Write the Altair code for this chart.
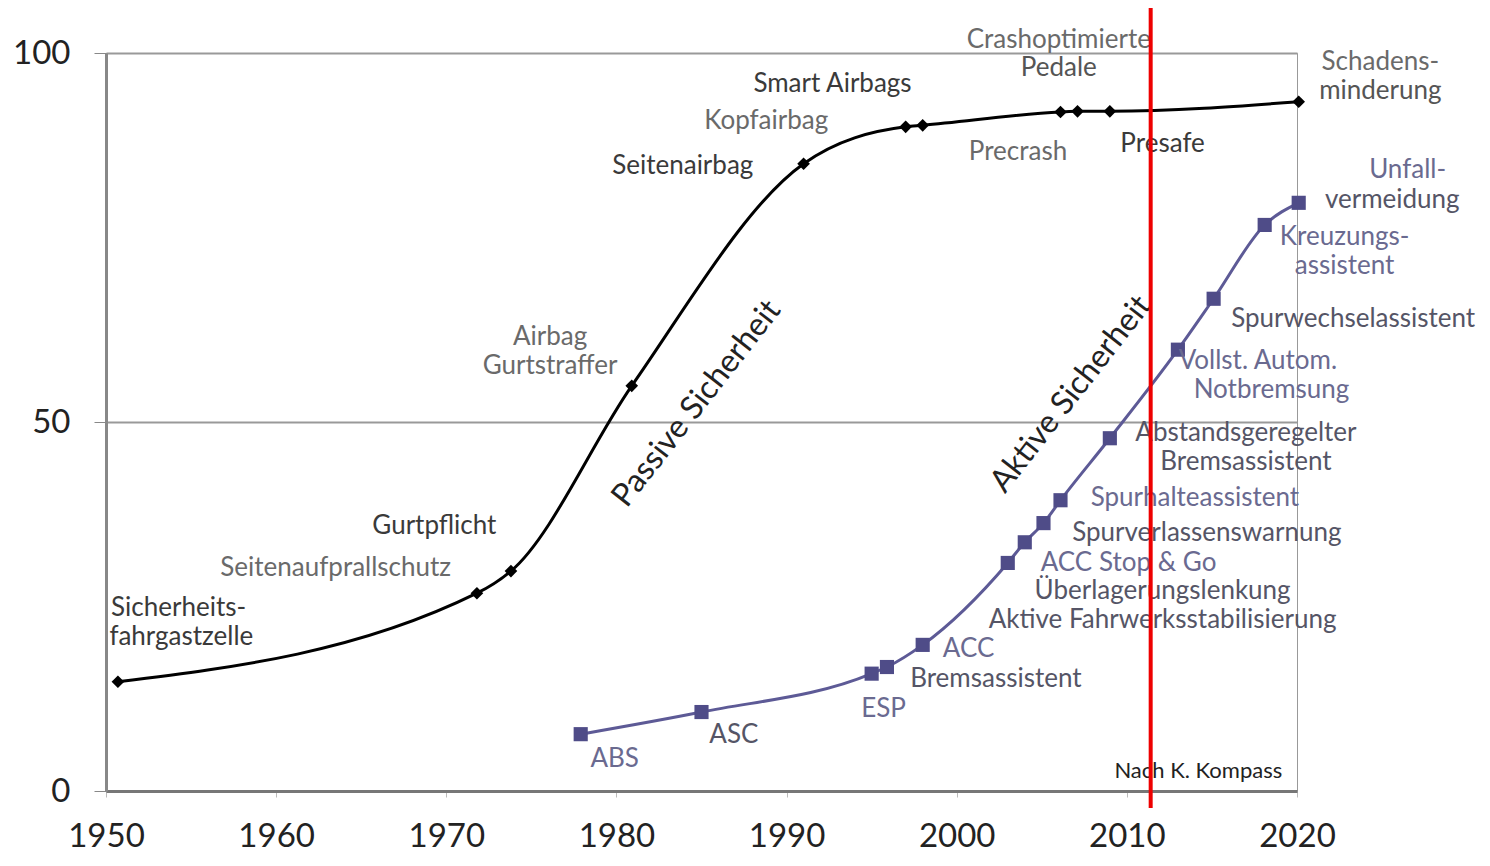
import altair as alt
import pandas as pd

# --- data -------------------------------------------------------------
passive_years = [1950.7, 1971.8, 1973.8, 1980.9, 1991.0, 1997.0, 1998.0, 2006.1, 2007.1, 2009.0, 2020.1]
passive_values = [14.8, 26.8, 29.8, 54.9, 85.0, 90.0, 90.2, 92.0, 92.1, 92.1, 93.4]

active_years = [1977.9, 1985.0, 1995.0, 1995.9, 1998.0, 2003.0, 2004.0, 2005.1, 2006.1, 2009.0, 2013.0, 2015.1, 2018.1, 2020.1]
active_values = [7.7, 10.7, 15.9, 16.8, 19.8, 30.9, 33.7, 36.3, 39.4, 47.8, 59.8, 66.7, 76.7, 79.7]

label_texts = [
    "Sicherheits-", "fahrgastzelle", "Seitenaufprallschutz", "Gurtpflicht",
    "Airbag", "Gurtstraffer", "Seitenairbag", "Kopfairbag", "Smart Airbags",
    "Crashoptimierte", "Pedale", "Precrash", "Presafe", "Schadens-", "minderung",
    "ABS", "ASC", "ESP", "Bremsassistent", "ACC", "Aktive Fahrwerksstabilisierung",
    "Überlagerungslenkung", "ACC Stop & Go", "Spurverlassenswarnung", "Spurhalteassistent",
    "Abstandsgeregelter", "Bremsassistent", "Vollst. Autom.", "Notbremsung",
    "Spurwechselassistent", "Kreuzungs-", "assistent", "Unfall-", "vermeidung",
]
label_years = [
    1950.3, 1950.2, 1963.5, 1969.3,
    1976.1, 1976.1, 1983.9, 1988.8, 1992.7,
    2006.0, 2006.0, 2003.6, 2012.1, 2024.9, 2024.9,
    1979.9, 1986.9, 1995.7, 2002.3, 2000.7, 2012.1,
    2012.1, 2010.1, 2014.7, 2014.0,
    2017.0, 2017.0, 2017.7, 2018.5,
    2023.3, 2022.8, 2022.8, 2026.5, 2025.6,
]
label_values = [
    24.8, 20.9, 30.2, 35.9,
    61.5, 57.6, 84.7, 90.8, 95.8,
    101.8, 98.0, 86.6, 87.7, 98.8, 94.9,
    4.3, 7.6, 11.1, 15.2, 19.2, 23.2,
    27.1, 30.9, 35.0, 39.7,
    48.5, 44.6, 58.3, 54.3,
    64.0, 75.1, 71.1, 84.1, 80.1,
]
label_aligns = ["left", "left"] + ["center"] * 32
label_colors = [
    "#3a3a3a", "#3a3a3a", "#6a6a6a", "#3a3a3a",
    "#6a6a6a", "#6a6a6a", "#3a3a3a", "#6a6a6a", "#3a3a3a",
    "#6a6a6a", "#555555", "#6a6a6a", "#3a3a3a", "#6a6a6a", "#555555",
    "#6a6a90", "#555566", "#6a6a90", "#555566", "#6a6a90", "#555566",
    "#555566", "#6a6a90", "#555566", "#6a6a90",
    "#555566", "#555566", "#6a6a90", "#6a6a90",
    "#555566", "#6a6a90", "#6a6a90", "#6a6a90", "#555566",
]

curve_names = ["Passive Sicherheit", "Aktive Sicherheit"]
curve_name_years = [1984.7, 2006.7]
curve_name_values = [52.5, 53.8]

source_text = ["Nach K. Kompass"]
source_year = [2014.2]
source_value = [2.7]

marker_year = [2011.4]
marker_low = [-2.3]
marker_high = [106.1]

x_ticks = [1950, 1960, 1970, 1980, 1990, 2000, 2010, 2020]
y_ticks = [0, 50, 100]

FONT = "Lato"
PURPLE = "#5d5a96"

# --- tables -----------------------------------------------------------
passive = pd.DataFrame({"year": passive_years, "value": passive_values})
active = pd.DataFrame({"year": active_years, "value": active_values})
labels = pd.DataFrame({"year": label_years, "value": label_values, "label": label_texts,
                       "color": label_colors, "align": label_aligns})
names = pd.DataFrame({"year": curve_name_years, "value": curve_name_values, "label": curve_names})
source = pd.DataFrame({"year": source_year, "value": source_value, "label": source_text})
marker = pd.DataFrame({"year": marker_year, "lo": marker_low, "hi": marker_high})

xs = alt.Scale(domain=[1950, 2020], nice=False, zero=False)
ys = alt.Scale(domain=[0, 100], nice=False)

x_axis = alt.Axis(values=x_ticks, format="d", title=None, grid=False, labelFontSize=33,
                  labelFont=FONT, labelColor="#222", domainColor="#777", domainWidth=3,
                  tickColor="#bbb", tickSize=6, labelPadding=23, labelFlush=False)
y_axis = alt.Axis(values=y_ticks, title=None, grid=True, gridColor="#999", gridWidth=2,
                  labelFontSize=33, labelFont=FONT, labelColor="#222", domainColor="#888",
                  domainWidth=3, tickColor="#888", tickSize=12, labelPadding=24, labelFlush=False)

base_p = alt.Chart(passive).encode(
    x=alt.X("year:Q", scale=xs, axis=x_axis),
    y=alt.Y("value:Q", scale=ys, axis=y_axis),
)
p_line = base_p.mark_line(interpolate="monotone", color="black", strokeWidth=3)
p_pts = base_p.mark_point(shape="diamond", filled=True, color="black", size=160, opacity=1)

base_a = alt.Chart(active).encode(x=alt.X("year:Q", scale=xs), y=alt.Y("value:Q", scale=ys))
a_line = base_a.mark_line(interpolate="monotone", color=PURPLE, strokeWidth=3)
a_pts = base_a.mark_point(shape="square", filled=True, color="#4f4c88", size=200, opacity=1)

red = alt.Chart(marker).mark_rule(color="#ee0000", strokeWidth=4).encode(
    x="year:Q", y="lo:Q", y2="hi:Q")

txt_center = alt.Chart(labels[labels["align"] == "center"]).mark_text(
    font=FONT, fontSize=26, baseline="middle", align="center").encode(
    x="year:Q", y="value:Q", text="label:N", color=alt.Color("color:N", scale=None))
txt_left = alt.Chart(labels[labels["align"] == "left"]).mark_text(
    font=FONT, fontSize=26, baseline="middle", align="left").encode(
    x="year:Q", y="value:Q", text="label:N", color=alt.Color("color:N", scale=None))

name_txt = alt.Chart(names).mark_text(font=FONT, fontSize=32, angle=308, baseline="middle",
                                      align="center", color="#222").encode(
    x="year:Q", y="value:Q", text="label:N")
src_txt = alt.Chart(source).mark_text(font=FONT, fontSize=22, baseline="middle",
                                      align="center", color="#222").encode(
    x="year:Q", y="value:Q", text="label:N")

chart = alt.layer(
    p_line, p_pts, a_line, a_pts, txt_center, txt_left, name_txt, src_txt, red
).properties(
    width=1191, height=738,
    autosize=alt.AutoSizeParams(type="none"),
    padding={"left": 98, "top": 45, "right": 180, "bottom": 62},
    background="white",
).configure_view(stroke="#999", strokeWidth=1)

chart.save("out.html", embed_options={"renderer": "svg", "actions": False})
